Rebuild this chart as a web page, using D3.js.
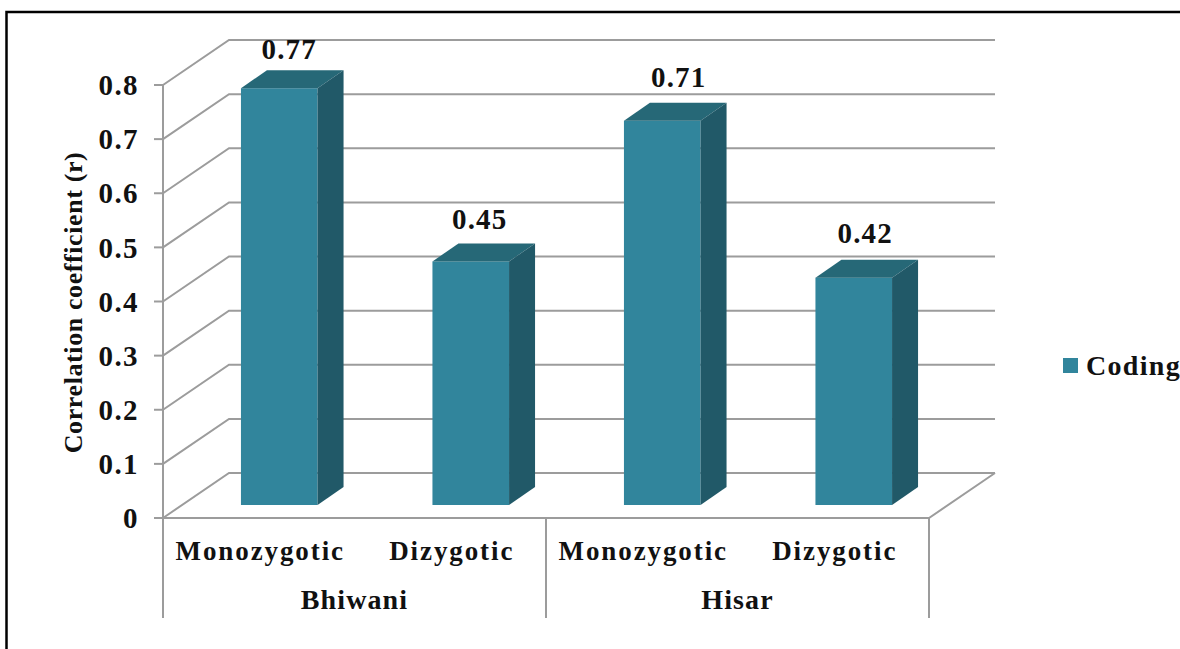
<!DOCTYPE html>
<html>
<head>
<meta charset="utf-8">
<script src="https://cdn.jsdelivr.net/npm/d3@7/dist/d3.min.js"></script>
<style>
  html, body { margin: 0; padding: 0; background: #fff; }
  svg { display: block; }
  text { font-family: "Liberation Serif", serif; font-weight: 700; fill: #111; }
</style>
</head>
<body>
<div id="chart"></div>
<script>
const groups = ["Bhiwani", "Hisar"];
const categories = ["Monozygotic", "Dizygotic"];
const values = [0.77, 0.45, 0.71, 0.42];
const yTicks = [0, 0.1, 0.2, 0.3, 0.4, 0.5, 0.6, 0.7, 0.8];
const seriesName = "Coding";
const yTitle = "Correlation coefficient (r)";

const COLORS = { grid: "#9c9c9c", front: "#31859c", top: "#266877", side: "#215968", frame: "#000" };

const width = 1180, height = 649;
const frontLeft = 163, frontRight = 929, frontBase = 518, frontTop = 85;
const depthX = 66, depthY = -45;        // floor depth of the 3d box
const barDepthX = 26, barDepthY = -18;  // depth of a single bar
const barInsetX = 20.5, barInsetY = -13; // bars sit a bit back from the front edge
// data labels were placed by hand in the original, so each has its own nudge
const labelDx = [10, 9, 16.5, 11.5];
const labelDy = [-29, -32, -34, -35];

const svg = d3.select("#chart").append("svg")
  .attr("width", width).attr("height", height)
  .attr("viewBox", `0 0 ${width} ${height}`);

// frame round the picture, open at the right and bottom edges of the crop
svg.append("path")
  .attr("d", d3.line()([[6.5, height], [6.5, 12], [width, 12]]))
  .attr("fill", "none").attr("stroke", COLORS.frame).attr("stroke-width", 2.5);

const rows = values.map((v, i) => ({
  key: i,
  group: groups[Math.floor(i / categories.length)],
  cat: categories[i % categories.length],
  value: v,
}));

const x = d3.scaleBand().domain(rows.map(d => d.key)).range([frontLeft, frontRight]);
const y = d3.scaleLinear().domain([0, 0.8]).range([frontBase, frontTop]);
const line = d3.line();

const grid = svg.append("g")
  .attr("fill", "none").attr("stroke", COLORS.grid).attr("stroke-width", 2);

yTicks.forEach(t => {
  grid.append("path").attr("d", line([
    [frontLeft, y(t)],
    [frontLeft + depthX, y(t) + depthY],
    [frontRight + depthX, y(t) + depthY],
  ]));
  grid.append("path").attr("d", line([[frontLeft - 9, y(t)], [frontLeft, y(t)]]));
});

// floor and category axis lines
grid.append("path").attr("d", line([[frontLeft, frontBase], [frontRight, frontBase], [frontRight + depthX, frontBase + depthY]]));
grid.append("path").attr("d", line([[frontLeft, frontTop], [frontLeft, 618]]));
grid.append("path").attr("d", line([[x(2), frontBase], [x(2), 618]]));
grid.append("path").attr("d", line([[frontRight, frontBase], [frontRight, 618]]));

svg.append("g").selectAll("text").data(yTicks).join("text")
  .attr("x", frontLeft - 24).attr("y", d => y(d)).attr("dy", "0.35em")
  .attr("text-anchor", "end").attr("font-size", 29).attr("letter-spacing", 1.4)
  .text(d => d);

svg.append("text")
  .attr("transform", `translate(82,${(y(0) + y(0.8)) / 2 + 1}) rotate(-90)`)
  .attr("text-anchor", "middle").attr("font-size", 26).attr("letter-spacing", 0.6)
  .text(yTitle);

// bars: front, top and side faces
const barW = x.bandwidth() * 0.4;
const bars = svg.append("g").selectAll("g").data(rows).join("g");
const barX = d => x(d.key) + x.bandwidth() / 2 + barInsetX - barW / 2;
const barTop = d => y(d.value) + barInsetY;
const barBase = frontBase + barInsetY;

bars.append("rect")
  .attr("x", barX).attr("y", barTop)
  .attr("width", barW).attr("height", d => barBase - barTop(d))
  .attr("fill", COLORS.front);

bars.append("path").attr("fill", COLORS.top).attr("d", d => line([
  [barX(d), barTop(d)],
  [barX(d) + barDepthX, barTop(d) + barDepthY],
  [barX(d) + barW + barDepthX, barTop(d) + barDepthY],
  [barX(d) + barW, barTop(d)],
]) + "Z");

bars.append("path").attr("fill", COLORS.side).attr("d", d => line([
  [barX(d) + barW, barTop(d)],
  [barX(d) + barW + barDepthX, barTop(d) + barDepthY],
  [barX(d) + barW + barDepthX, barBase + barDepthY],
  [barX(d) + barW, barBase],
]) + "Z");

bars.append("text")
  .attr("x", d => barX(d) + barW / 2 + labelDx[d.key])
  .attr("y", d => barTop(d) + labelDy[d.key])
  .attr("text-anchor", "middle").attr("font-size", 29).attr("letter-spacing", 1.2)
  .text(d => d.value);

// two level category axis
svg.append("g").selectAll("text").data(rows).join("text")
  .attr("x", d => x(d.key) + x.bandwidth() / 2 + 1.5).attr("y", 560)
  .attr("text-anchor", "middle").attr("font-size", 27).attr("letter-spacing", 1.9)
  .text(d => d.cat);

svg.append("g").selectAll("text").data(groups).join("text")
  .attr("x", (d, i) => x(i * categories.length) + x.bandwidth()).attr("y", 609)
  .attr("text-anchor", "middle").attr("font-size", 28).attr("letter-spacing", 1.1)
  .text(d => d);

// legend
svg.append("rect").attr("x", 1063).attr("y", 358).attr("width", 15).attr("height", 15).attr("fill", COLORS.front);
svg.append("text").attr("x", 1086).attr("y", 375).attr("font-size", 28).attr("letter-spacing", 1.3).text(seriesName);
</script>
</body>
</html>
